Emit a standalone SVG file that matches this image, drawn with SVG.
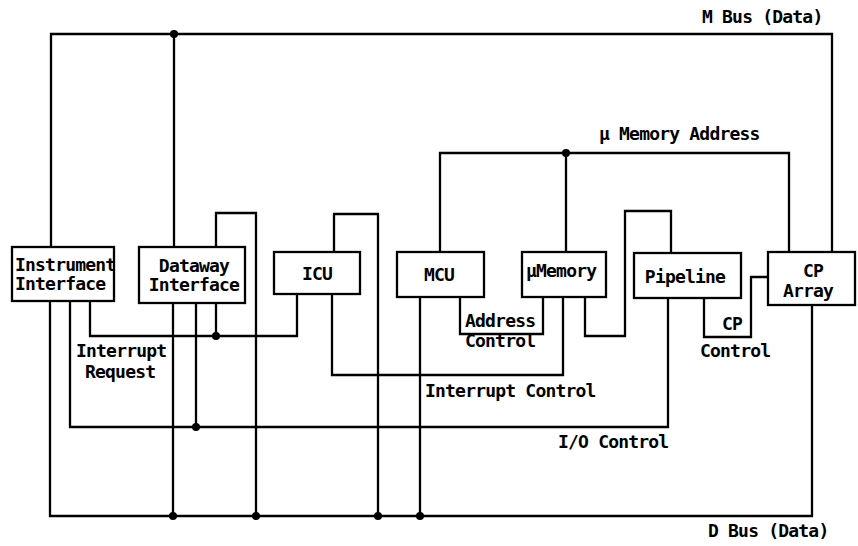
<svg xmlns="http://www.w3.org/2000/svg" width="858" height="546" viewBox="0 0 858 546">
<style>
.box{fill:#fff;stroke:#000;stroke-width:2.3}
.w{fill:none;stroke:#000;stroke-width:2.3;stroke-linejoin:miter}
.dot{fill:#000}
text{font-family:"DejaVu Sans Mono","Liberation Mono",monospace;font-weight:bold;font-size:18px;letter-spacing:-0.8px;fill:#000}
.c{text-anchor:middle}
</style>
<rect width="858" height="546" fill="#fff"/>
<g id="connectors">
<polyline class="w" points="51,247 51,34 832,34 832,252"/>
<polyline class="w" points="174,34 174,247"/>
<polyline class="w" points="440,252 440,153 789,153 789,252"/>
<polyline class="w" points="566,153 566,252"/>
<polyline class="w" points="216,247 216,213 256,213 256,516"/>
<polyline class="w" points="334,252 334,214 378,214 378,516"/>
<polyline class="w" points="50,301 50,516 812,516 812,305"/>
<polyline class="w" points="173,303 173,516"/>
<polyline class="w" points="420,297 420,516"/>
<polyline class="w" points="70,301 70,427 668,427 668,298"/>
<polyline class="w" points="196,303 196,427"/>
<polyline class="w" points="90,301 90,336 297,336 297,294"/>
<polyline class="w" points="216,303 216,336"/>
<polyline class="w" points="332,294 332,375 563,375 563,297"/>
<polyline class="w" points="460,297 460,334 543,334 543,297"/>
<polyline class="w" points="585,297 585,336 625,336 625,211 671,211 671,253"/>
<polyline class="w" points="704,298 704,337 751,337 751,277 768,277"/>
<circle class="dot" cx="174" cy="34" r="4"/>
<circle class="dot" cx="566" cy="153" r="4"/>
<circle class="dot" cx="216" cy="336" r="4"/>
<circle class="dot" cx="196" cy="427" r="4"/>
<circle class="dot" cx="173" cy="516" r="4"/>
<circle class="dot" cx="256" cy="516" r="4"/>
<circle class="dot" cx="378" cy="516" r="4"/>
<circle class="dot" cx="420" cy="516" r="4"/>
</g>
<g id="labels">
<text x="702" y="23">M Bus (Data)</text>
<text x="599" y="140">μ Memory Address</text>
<text x="76" y="357">Interrupt</text>
<text x="85" y="378">Request</text>
<text x="465" y="327">Address</text>
<text x="465" y="347">Control</text>
<text x="425" y="397">Interrupt Control</text>
<text x="722" y="330">CP</text>
<text x="700" y="357">Control</text>
<text x="558" y="448">I/O Control</text>
<text x="708" y="537">D Bus (Data)</text>
</g>
<g id="instrument-interface">
<rect class="box" x="12" y="247" width="102" height="54"/>
<text x="15" y="271">Instrument</text>
<text x="15" y="290">Interface</text>
</g>
<g id="dataway-interface">
<rect class="box" x="139" y="247" width="106" height="56"/>
<text class="c" x="194" y="272">Dataway</text>
<text class="c" x="194" y="291">Interface</text>
</g>
<g id="icu">
<rect class="box" x="274" y="252" width="86" height="42"/>
<text class="c" x="317" y="280">ICU</text>
</g>
<g id="mcu">
<rect class="box" x="397" y="252" width="87" height="45"/>
<text class="c" x="439" y="281">MCU</text>
</g>
<g id="umemory">
<rect class="box" x="522" y="252" width="84" height="45"/>
<text x="526" y="277">μMemory</text>
</g>
<g id="pipeline">
<rect class="box" x="634" y="253" width="107" height="45"/>
<text class="c" x="685" y="283">Pipeline</text>
</g>
<g id="cp-array">
<rect class="box" x="768" y="252" width="87" height="53"/>
<text class="c" x="813" y="277">CP</text>
<text class="c" x="808" y="297">Array</text>
</g>
</svg>
